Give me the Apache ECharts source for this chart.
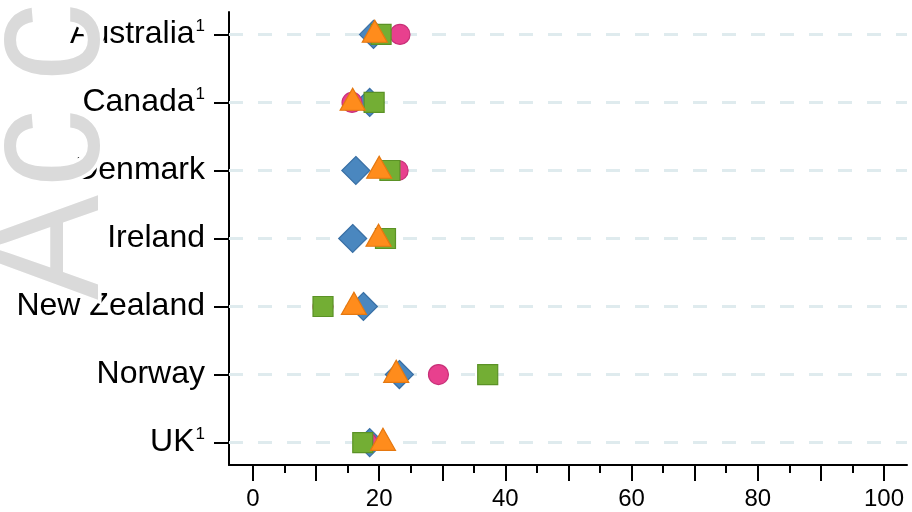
<!DOCTYPE html>
<html>
<head>
<meta charset="utf-8">
<script src="https://cdn.jsdelivr.net/npm/echarts@6/dist/echarts.min.js"></script>
<style>
  html, body { margin: 0; padding: 0; background: #fff; }
  #chart { width: 912px; height: 512px; }
</style>
</head>
<body>
<div id="chart"></div>
<script>
// Countries, top to bottom; footnote marker "1" where flagged
const countries = ['Australia', 'Canada', 'Denmark', 'Ireland', 'New Zealand', 'Norway', 'UK'];
const footnoted = [true, true, false, false, false, false, true];

// One value per country for each marker series
const diamondValues  = [19.1, 18.5, 16.3, 15.8, 17.5, 23.2, 18.5];
const circleValues   = [23.3, 15.7, 23.0, 21.0, 11.1, 29.4, 18.1];
const squareValues   = [20.3, 19.2, 21.7, 21.0, 11.1, 37.2, 17.4];
const triangleValues = [19.3, 15.8, 20.0, 19.9, 16.0, 22.7, 20.6];

// x axis ticks and labels
const xMajorTicks = [0, 10, 20, 30, 40, 50, 60, 70, 80, 90, 100];
const xMinorTicks = [5, 15, 25, 35, 45, 55, 65, 75, 85, 95];
const xTickLabels = [0, 20, 40, 60, 80, 100];

const rowIndex = countries.map((_, i) => i);
const FONT = '"Liberation Sans", Arial, sans-serif';

function pairs(values) {
  return values.map((v, i) => [v, i]);
}

function markerSeries(name, values, symbol, size, fill, border, offset) {
  return {
    name: name,
    type: 'scatter',
    data: pairs(values),
    symbol: symbol,
    symbolSize: size,
    symbolOffset: offset || [0, 0],
    z: 3,
    itemStyle: { color: fill, borderColor: border, borderWidth: 1.2, opacity: 1 },
    emphasis: { disabled: true },
    silent: true
  };
}

// Vertical "Accepted" stamp along the left edge, letter by letter (reads bottom to top)
const stampLetters = ['A', 'c', 'c', 'e', 'p'];
const stampGraphics = stampLetters.map((ch, i) => ({
  type: 'text',
  x: 137,
  y: 300 - (i === 0 ? 0 : 112 + (i - 1) * 106),
  rotation: Math.PI / 2,
  scaleX: 0.9,
  z: 100,
  silent: true,
  style: {
    text: ch,
    font: '175px "Liberation Sans", Arial, sans-serif',
    fill: '#dadada',
    stroke: '#ffffff',
    lineWidth: 7,
    strokeFirst: true,
    align: 'left',
    verticalAlign: 'bottom'
  }
}));

const chart = echarts.init(document.getElementById('chart'), null, { renderer: 'canvas' });

chart.setOption({
  animation: false,
  backgroundColor: '#fff',
  grid: { left: 229, right: 5, top: 12, bottom: 47, containLabel: false, outerBoundsMode: 'none' },
  xAxis: [{
    type: 'value',
    min: -3.8, max: 103.65,
    axisLine: { show: true, onZero: false, lineStyle: { color: '#000', width: 2 } },
    axisTick: { show: true, customValues: xMajorTicks, length: 16, lineStyle: { color: '#000', width: 2 } },
    axisLabel: { customValues: xTickLabels, margin: 22, fontSize: 24, color: '#000', fontFamily: FONT },
    splitLine: { show: false }
  }, {
    type: 'value',
    position: 'bottom',
    min: -3.8, max: 103.65,
    axisLine: { show: false, onZero: false },
    axisTick: { show: true, customValues: xMinorTicks, length: 8, lineStyle: { color: '#000', width: 2 } },
    axisLabel: { show: false },
    splitLine: { show: false }
  }],
  yAxis: {
    type: 'value',
    inverse: true,
    min: -0.33, max: 6.33,
    axisLine: { show: true, onZero: false, lineStyle: { color: '#000', width: 2 } },
    axisTick: { show: true, customValues: rowIndex, length: 15, lineStyle: { color: '#000', width: 2 } },
    axisLabel: {
      customValues: rowIndex,
      margin: 24,
      formatter: function (value) {
        const i = Math.round(value);
        const name = countries[i];
        return footnoted[i] ? '{n|' + name + '}{s|1}' : '{n|' + name + '}';
      },
      rich: {
        n: { fontSize: 32, fontFamily: FONT, color: '#000', lineHeight: 36 },
        s: { fontSize: 17, fontFamily: FONT, color: '#000', lineHeight: 17, verticalAlign: 'top', padding: [1, 0, 0, 1] }
      }
    },
    splitLine: { show: false }
  },
  series: [
    {
      name: 'rows',
      type: 'scatter',
      data: [],
      silent: true,
      z: 1,
      markLine: {
        silent: true,
        z: 1,
        symbol: ['none', 'none'],
        label: { show: false },
        lineStyle: { color: '#dfebee', width: 3, type: [14, 15], opacity: 1 },
        emphasis: { disabled: true },
        data: rowIndex.map(i => ({ yAxis: i }))
      }
    },
    markerSeries('diamond', diamondValues, 'diamond', 28, '#4a87bf', '#3a70a5'),
    markerSeries('circle', circleValues, 'circle', 20, '#e8408e', '#c83078'),
    markerSeries('square', squareValues, 'rect', 20, '#73ae34', '#5b9226'),
    markerSeries('triangle', triangleValues, 'triangle', [25, 22], '#ff8c1c', '#e57810', [0, -3.2])
  ],
  graphic: stampGraphics
});
</script>
</body>
</html>
